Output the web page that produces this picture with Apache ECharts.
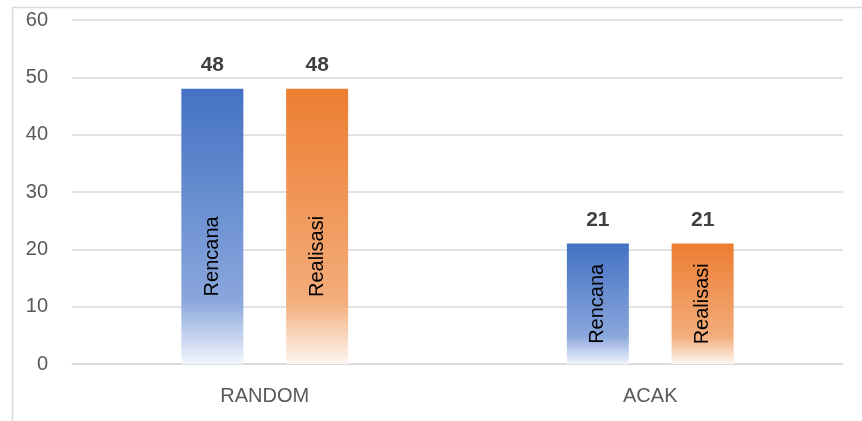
<!DOCTYPE html>
<html><head><meta charset="utf-8">
<script src="https://cdn.jsdelivr.net/npm/echarts@6/dist/echarts.min.js"></script>
<style>html,body{margin:0;padding:0;background:#fff}#c{width:862px;height:421px}</style>
</head><body><div id="c"></div>
<script>
var categories = ['RANDOM', 'ACAK'];
var seriesNames = ['Rencana', 'Realisasi'];
var rencana = [48, 21];
var realisasi = [48, 21];
var yTicks = [0, 10, 20, 30, 40, 50, 60];

var chart = echarts.init(document.getElementById('c'), null, {renderer: 'canvas'});
function grad(c0, c1, c2) {
  return new echarts.graphic.LinearGradient(0, 0, 0, 1, [
    {offset: 0, color: c0}, {offset: 0.77, color: c1}, {offset: 1, color: c2}
  ]);
}
function insideLabels(name, vals) {
  return vals.map(function (v, i) {
    return {
      value: v,
      label: {
        show: true, position: 'inside', rotate: 90, formatter: name,
        color: '#000', fontFamily: 'Liberation Sans', fontSize: 20, fontWeight: 'normal',
        offset: i === 0 ? [-30, 0] : [0, 0]
      }
    };
  });
}
var topLbl = {
  show: true, position: 'top', distance: 13, color: '#404040',
  fontFamily: 'Liberation Sans', fontWeight: 'bold', fontSize: 21
};
var axisLbl = {color: '#595959', fontFamily: 'Liberation Sans', fontSize: 20};
var option = {
  animation: false,
  graphic: [{
    type: 'rect', left: 10, top: 5, silent: true,
    shape: {width: 900, height: 500},
    style: {fill: 'none', stroke: '#D9D9D9', lineWidth: 1.5}
  }],
  grid: {left: 72, right: 19, top: 20, bottom: 57},
  xAxis: [{
    type: 'category', data: categories,
    axisLine: {lineStyle: {color: '#D9D9D9', width: 1.5}},
    axisTick: {show: false},
    axisLabel: Object.assign({margin: 22}, axisLbl)
  }, {
    type: 'category', data: categories, show: false
  }],
  yAxis: {
    type: 'value', min: yTicks[0], max: yTicks[yTicks.length - 1], interval: 10,
    axisLine: {show: false}, axisTick: {show: false},
    splitLine: {lineStyle: {color: '#D9D9D9', width: 1.5}},
    axisLabel: Object.assign({margin: 24}, axisLbl)
  },
  series: [
    {
      name: seriesNames[0], type: 'bar', barWidth: 62, barGap: '69%',
      data: rencana, label: topLbl,
      itemStyle: {color: grad('#4472C4', '#8AA7DC', '#F2F5FC')}
    },
    {
      name: seriesNames[1], type: 'bar', barWidth: 62, barGap: '69%',
      data: realisasi, label: topLbl,
      itemStyle: {color: grad('#ED7D31', '#F3AD7B', '#FEF6F1')}
    },
    {
      type: 'bar', xAxisIndex: 1, barWidth: 62, barGap: '69%', silent: true,
      data: insideLabels(seriesNames[0], rencana),
      itemStyle: {color: 'rgba(0,0,0,0)'}, z: 5
    },
    {
      type: 'bar', xAxisIndex: 1, barWidth: 62, barGap: '69%', silent: true,
      data: insideLabels(seriesNames[1], realisasi),
      itemStyle: {color: 'rgba(0,0,0,0)'}, z: 5
    }
  ]
};
chart.setOption(option);
</script>
</body></html>
